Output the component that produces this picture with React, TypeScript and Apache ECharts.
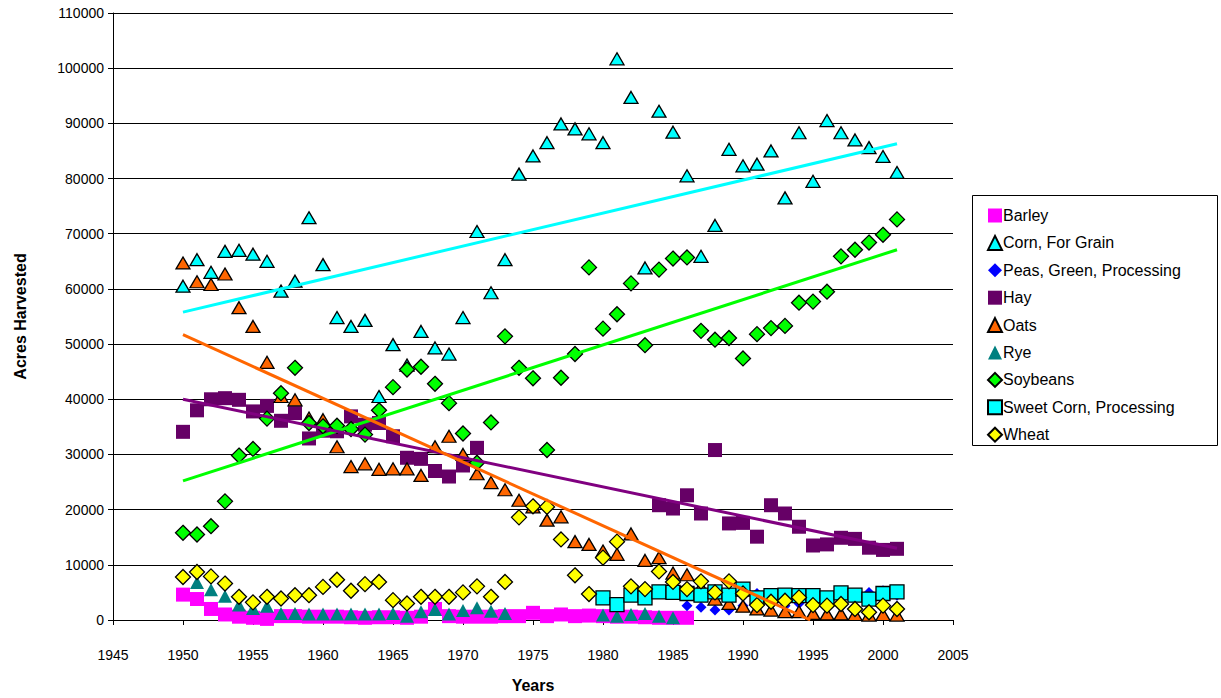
import React, { useEffect, useRef } from "react";
import * as echarts from "echarts";

const years = [
  1950, 1951, 1952, 1953, 1954, 1955, 1956, 1957, 1958, 1959,
  1960, 1961, 1962, 1963, 1964, 1965, 1966, 1967, 1968, 1969,
  1970, 1971, 1972, 1973, 1974, 1975, 1976, 1977, 1978, 1979,
  1980, 1981, 1982, 1983, 1984, 1985, 1986, 1987, 1988, 1989,
  1990, 1991, 1992, 1993, 1994, 1995, 1996, 1997, 1998, 1999,
  2000, 2001,
];

const N = null;

const barley = [
  4600, 3800, 2000, 1000, 600, 400, 200, 700, 700, 600,
  600, 600, 500, 400, 500, 500, 400, 600, 2000, 700,
  600, 600, 600, 700, 700, 1300, 700, 1000, 700, 800,
  700, 600, 600, 500, 400, 400, 400, N, N, N,
  N, N, N, N, N, N, N, N, N, N,
  N, N,
];

const corn = [
  60500, 65300, 63000, 66800, 67000, 66300, 65000, 59600, 61400, 72900,
  64400, 54800, 53200, 54300, 40500, 49900, 46200, 52300, 49300, 48200,
  54800, 70400, 59300, 65300, 80800, 84100, 86500, 89900, 89000, 88100,
  86500, 101700, 94700, 63800, 92200, 88400, 80500, 65900, 71500, 85300,
  82300, 82600, 85000, 76500, 88300, 79500, 90500, 88300, 87000, 85600,
  84000, 81100,
];

const peas = [
  N, N, N, N, N, N, N, N, N, N,
  N, N, N, N, N, N, N, N, N, N,
  N, N, N, N, N, N, N, N, N, N,
  N, N, N, N, N, N, 2600, 2300, 1800, 1800,
  2600, 4800, 4700, 2600, 3000, 3500, 4000, 4500, 4200, 5000,
  5300, 4500,
];

const hay = [
  34100, 38000, 40000, 40200, 39900, 37800, 38800, 36100, 37500, 32900,
  34300, 34200, 36900, 35400, 35700, 33300, 29400, 29200, 27000, 26000,
  28000, 31200, N, N, N, N, N, N, N, N,
  N, N, N, N, 20800, 20200, 22600, 19300, 30800, 17500,
  17600, 15100, 20800, 19300, 16900, 13500, 13700, 14900, 14700, 13100,
  12700, 12900,
];

const oats = [
  64700, 61300, 60800, 62700, 56600, 53200, 46700, 40500, 39900, 36600,
  36300, 31400, 27800, 28300, 27300, 27400, 27400, 26200, 31400, 33300,
  30000, 26500, 24900, 23600, 21700, 20500, 18100, 18700, 14200, 13700,
  12500, 11900, 15600, 10800, 11300, 8500, 8200, 6000, 3800, 3000,
  2500, 2000, 1800, 1500, 1500, 1200, 1100, 1100, 1000, 900,
  1000, 900,
];

const rye = [
  N, 6800, 5500, 4300, 2700, 2100, 2500, 1200, 1200, 1100,
  1100, 1100, 1100, 1100, 1100, 1200, 700, 1500, 1900, 1100,
  1700, 2200, 1600, 1200, N, N, N, N, N, N,
  900, 700, 1000, 1200, 700, 400, N, N, N, N,
  N, N, N, N, N, N, N, N, N, N,
  N, N,
];

const soybeans = [
  15800, 15500, 17000, 21500, 29800, 31000, 36500, 41100, 45700, 35700,
  35100, 35200, 34600, 33600, 38000, 42200, 45400, 45900, 42800, 39300,
  33800, 28500, 35800, 51400, 45700, 43800, 30800, 43900, 48200, 63900,
  52800, 55400, 61000, 49800, 63500, 65500, 65700, 52400, 50800, 51100,
  47400, 51800, 52900, 53300, 57500, 57700, 59500, 65900, 67100, 68400,
  69800, 72600,
];

const sweetCorn = [
  N, N, N, N, N, N, N, N, N, N,
  N, N, N, N, N, N, N, N, N, N,
  N, N, N, N, N, N, N, N, N, N,
  4000, 2800, 4500, 4000, 5100, 5000, 4800, 4500, 5100, 4500,
  5600, 4000, 4400, 4500, 4400, 4400, 4000, 4900, 4500, 3800,
  4800, 5100,
];

const wheat = [
  7800, 8700, 7900, 6600, 4200, 3200, 4200, 3900, 4500, 4500,
  6000, 7300, 5300, 6500, 6900, 3600, 3000, 4200, 4200, 4200,
  5000, 6100, 4200, 6900, 18600, 20600, 20500, 14600, 8100, 4700,
  11300, 14200, 6100, 5600, 8800, 6900, 5600, 7000, 5000, 7000,
  4800, 2700, 3300, 3500, 4100, 2700, 2600, 2900, 2000, 1400,
  2600, 2000,
];

// Linear trend lines: [year, acres] end points
const cornTrend = [[1950, 55800], [2001, 86300]];
const soybeansTrend = [[1950, 25200], [2001, 67100]];
const hayTrend = [[1950, 40000], [2001, 13000]];
const oatsTrend = [[1950, 51700], [1994.8, 0]];

const FONT = "'Liberation Sans', Arial, sans-serif";

type SeriesDef = {
  name: string;
  values: (number | null)[];
  symbol: string;
  size: number | number[];
  color: string;
  border: boolean;
};

const seriesDefs: SeriesDef[] = [
  { name: "Barley", values: barley, symbol: "rect", size: 14, color: "#FF00FF", border: false },
  { name: "Corn, For Grain", values: corn, symbol: "triangle", size: [14, 12], color: "#00FFFF", border: true },
  { name: "Peas, Green, Processing", values: peas, symbol: "diamond", size: [11, 11], color: "#0000FF", border: false },
  { name: "Hay", values: hay, symbol: "rect", size: 14, color: "#660066", border: false },
  { name: "Oats", values: oats, symbol: "triangle", size: [14, 12], color: "#FF6600", border: true },
  { name: "Rye", values: rye, symbol: "triangle", size: [14, 13], color: "#008080", border: false },
  { name: "Soybeans", values: soybeans, symbol: "diamond", size: [15, 15], color: "#00FF00", border: true },
  { name: "Sweet Corn, Processing", values: sweetCorn, symbol: "rect", size: 14, color: "#00FFFF", border: true },
  { name: "Wheat", values: wheat, symbol: "diamond", size: [15, 15], color: "#FFFF00", border: true },
];

const trendDefs = [
  { data: cornTrend, color: "#00FFFF" },
  { data: soybeansTrend, color: "#00FF00" },
  { data: hayTrend, color: "#800080" },
  { data: oatsTrend, color: "#FF6600" },
];

export default function App() {
  const ref = useRef<HTMLDivElement>(null);

  useEffect(() => {
    if (!ref.current) return;
    const chart = echarts.init(ref.current, null, { renderer: "svg" });

    const scatter = seriesDefs.map((d) => ({
      name: d.name,
      type: "scatter",
      symbol: d.symbol,
      symbolSize: d.size,
      data: d.values
        .map((v, i) => (v === null ? null : [years[i], v]))
        .filter((p) => p !== null),
      itemStyle: {
        color: d.color,
        borderColor: d.border ? "#000000" : d.color,
        borderWidth: d.border ? 1.3 : 0,
        opacity: 1,
      },
      emphasis: { disabled: true },
      silent: true,
    }));

    const trends = trendDefs.map((t) => ({
      type: "line",
      data: t.data,
      showSymbol: false,
      symbol: "none",
      lineStyle: { color: t.color, width: 3 },
      clip: true,
      silent: true,
      z: 3,
    }));

    chart.setOption({
      animation: false,
      backgroundColor: "#ffffff",
      textStyle: { fontFamily: FONT },
      grid: { left: 113, right: 268, top: 13, bottom: 72, containLabel: false },
      xAxis: {
        type: "value",
        min: 1945,
        max: 2005,
        interval: 5,
        name: "Years",
        nameLocation: "middle",
        nameGap: 57,
        nameTextStyle: { fontFamily: FONT, fontSize: 16, fontWeight: "bold", color: "#000" },
        axisLine: { show: true, lineStyle: { color: "#000", width: 1 } },
        axisTick: { show: true, length: 5, lineStyle: { color: "#000" } },
        axisLabel: {
          fontFamily: FONT,
          fontSize: 14,
          color: "#000",
          margin: 28,
          formatter: (v: number) => String(v),
        },
        splitLine: { show: false },
      },
      yAxis: {
        type: "value",
        min: 0,
        max: 110000,
        interval: 10000,
        name: "Acres Harvested",
        nameLocation: "middle",
        nameGap: 85,
        nameRotate: 90,
        nameTextStyle: { fontFamily: FONT, fontSize: 16, fontWeight: "bold", color: "#000" },
        axisLine: { show: true, lineStyle: { color: "#000", width: 1 } },
        axisTick: { show: true, length: 5, lineStyle: { color: "#000" } },
        axisLabel: {
          fontFamily: FONT,
          fontSize: 14,
          color: "#000",
          margin: 9,
          formatter: (v: number) => String(v),
        },
        splitLine: { show: true, lineStyle: { color: "#000", width: 1 } },
      },
      legend: {
        orient: "vertical",
        left: 987,
        top: 203,
        itemWidth: 14,
        itemHeight: 14,
        itemGap: 2.4,
        padding: 0,
        selectedMode: false,
        textStyle: {
          fontFamily: FONT,
          fontSize: 16,
          lineHeight: 16,
          color: "#000",
          padding: [9, 0, 0, -4],
        },
        data: seriesDefs.map((d) => d.name),
      },
      graphic: [
        {
          type: "rect",
          shape: { x: 972.5, y: 195.5, width: 245, height: 250 },
          style: { fill: "#ffffff", stroke: "#000000", lineWidth: 1 },
          z: 0,
          silent: true,
        },
      ],
      series: [...scatter, ...trends],
    });

    return () => {
      chart.dispose();
    };
  }, []);

  return (
    <div
      ref={ref}
      style={{ position: "absolute", left: 0, top: 0, width: 1221, height: 698 }}
    />
  );
}
